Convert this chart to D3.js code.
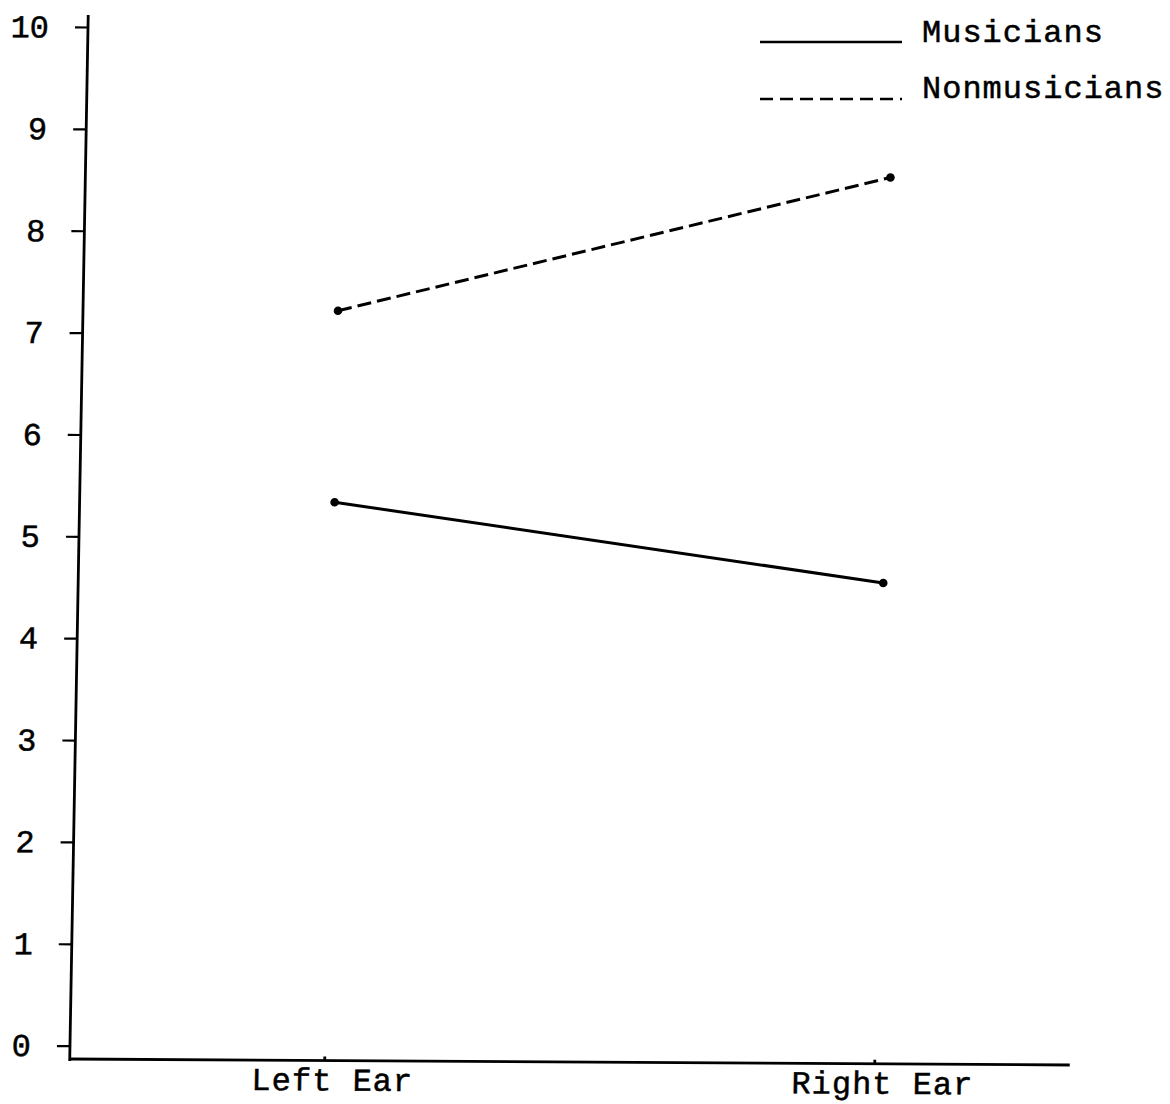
<!DOCTYPE html>
<html>
<head>
<meta charset="utf-8">
<script src="https://cdn.jsdelivr.net/npm/d3@7"></script>
<style>
  body { margin: 0; background: #fff; }
  svg text { font-family: "Courier New", "Liberation Mono", monospace; fill: #000; stroke: #000; stroke-width: 0.5; }
</style>
</head>
<body>
<script>
// data
const categories = ['Left Ear', 'Right Ear']
const musicians = [5.35, 4.59]
const nonmusicians = [7.23, 8.57]
const yTicks = [0, 1, 2, 3, 4, 5, 6, 7, 8, 9, 10]
const seriesNames = ['Musicians', 'Nonmusicians']

const width = 1170, height = 1104
const fontSize = 32

const svg = d3.select('body').append('svg')
    .attr('width', width)
    .attr('height', height)

// the scanned original is slightly sheared, so the plot group is too
const plot = svg.append('g')
    .attr('transform', 'matrix(1,0.006,-0.0177,1,88,27)')

const h = 1018.7   // distance from 10 down to 0
const axisBottom = 1032

const x = d3.scalePoint()
    .domain(categories)
    .range([255, 805])

const y = d3.scaleLinear()
    .domain([0, 10])
    .range([h, 0])

// y axis
const yAxis = d3.axisLeft(y)
    .tickValues(yTicks)
    .tickSize(13)
    .tickPadding(26)
    .tickFormat(d3.format('d'))

const yg = plot.append('g').call(yAxis)
yg.select('.domain').remove()
yg.selectAll('.tick line').attr('stroke', '#000').attr('stroke-width', 2.2)
yg.selectAll('.tick text')
    .attr('font-size', fontSize)
    .attr('font-family', '"Courier New", "Liberation Mono", monospace')
    .attr('fill', '#000')

plot.append('line')
    .attr('x1', 0).attr('x2', 0)
    .attr('y1', -12).attr('y2', axisBottom + 2)
    .attr('stroke', '#000')
    .attr('stroke-width', 2.8)

// x axis
plot.append('line')
    .attr('x1', 0).attr('x2', 1000)
    .attr('y1', axisBottom).attr('y2', axisBottom)
    .attr('stroke', '#000')
    .attr('stroke-width', 2.8)

plot.selectAll('.xtick')
    .data(categories)
    .enter()
      .append('line')
      .attr('class', 'xtick')
      .attr('x1', d => x(d)).attr('x2', d => x(d))
      .attr('y1', axisBottom).attr('y2', axisBottom - 4)
      .attr('stroke', '#000')
      .attr('stroke-width', 2.8)

plot.selectAll('.xlabel')
    .data(categories)
    .enter()
      .append('text')
      .attr('class', 'xlabel')
      .attr('x', d => x(d) + 8)
      .attr('y', axisBottom + 30)
      .attr('text-anchor', 'middle')
      .attr('font-size', fontSize)
      .attr('letter-spacing', 1)
      .text(d => d)

// series
const series = [
  { key: seriesNames[0], values: musicians, dash: null },
  { key: seriesNames[1], values: nonmusicians, dash: '14,6' }
]

const line = d3.line()
    .x((d, i) => x(categories[i]))
    .y(d => y(d))

plot.selectAll('.series')
    .data(series)
    .enter()
      .append('path')
      .attr('class', 'series')
      .attr('fill', 'none')
      .attr('stroke', '#000')
      .attr('stroke-width', 3)
      .attr('stroke-dasharray', d => d.dash)
      .attr('d', d => line(d.values))

series.forEach(s => {
  plot.selectAll(null)
      .data(s.values)
      .enter()
        .append('circle')
        .attr('cx', (d, i) => x(categories[i]))
        .attr('cy', d => y(d))
        .attr('r', 4.3)
        .attr('fill', '#000')
})

// legend (not sheared)
const legend = svg.append('g')
    .attr('transform', 'translate(760,42)')

legend.selectAll('.legend-line')
    .data(series)
    .enter()
      .append('line')
      .attr('x1', 0).attr('x2', 142)
      .attr('y1', (_, i) => i * 57).attr('y2', (_, i) => i * 57)
      .attr('stroke', '#000')
      .attr('stroke-width', 2.6)
      .attr('stroke-dasharray', d => d.dash ? '13,7' : null)

legend.selectAll('.legend-text')
    .data(series)
    .enter()
      .append('text')
      .attr('x', 162)
      .attr('y', (_, i) => i * 56)
      .attr('font-size', fontSize)
      .attr('letter-spacing', 1)
      .text(d => d.key)
</script>
</body>
</html>
